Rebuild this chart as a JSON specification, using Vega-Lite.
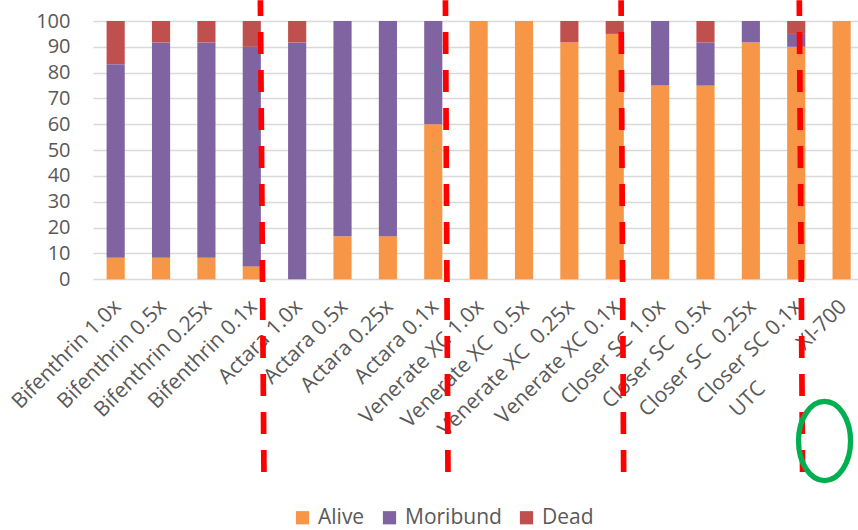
{
  "$schema": "https://vega.github.io/schema/vega-lite/v6.json",
  "autosize": "none",
  "width": 765,
  "height": 258.3,
  "padding": {"left": 93, "top": 21, "right": 0, "bottom": 250.7},
  "config": {
    "view": {"stroke": null},
    "font": "Open Sans",
    "axisY": {
      "tickCount": 10,
      "domain": false,
      "ticks": false,
      "tickSize": 0,
      "grid": true,
      "gridColor": "#D9D9D9",
      "gridWidth": 1.3,
      "labelPadding": 23,
      "labelFont": "Open Sans",
      "labelFontSize": 20,
      "labelColor": "#595959",
      "title": null
    }
  },
  "datasets": {
    "stackOrder": [
      {"status": "Alive", "rank": 1},
      {"status": "Moribund", "rank": 2},
      {"status": "Dead", "rank": 3}
    ],
    "survival": [
      {"treatment": "Bifenthrin 1.0x", "status": "Alive", "pct": 8.3},
      {"treatment": "Bifenthrin 1.0x", "status": "Moribund", "pct": 75},
      {"treatment": "Bifenthrin 1.0x", "status": "Dead", "pct": 16.7},
      {"treatment": "Bifenthrin 0.5x", "status": "Alive", "pct": 8.3},
      {"treatment": "Bifenthrin 0.5x", "status": "Moribund", "pct": 83.4},
      {"treatment": "Bifenthrin 0.5x", "status": "Dead", "pct": 8.3},
      {"treatment": "Bifenthrin 0.25x", "status": "Alive", "pct": 8.3},
      {"treatment": "Bifenthrin 0.25x", "status": "Moribund", "pct": 83.4},
      {"treatment": "Bifenthrin 0.25x", "status": "Dead", "pct": 8.3},
      {"treatment": "Bifenthrin 0.1x", "status": "Alive", "pct": 5},
      {"treatment": "Bifenthrin 0.1x", "status": "Moribund", "pct": 85},
      {"treatment": "Bifenthrin 0.1x", "status": "Dead", "pct": 10},
      {"treatment": "Actara 1.0x", "status": "Alive", "pct": 0},
      {"treatment": "Actara 1.0x", "status": "Moribund", "pct": 91.7},
      {"treatment": "Actara 1.0x", "status": "Dead", "pct": 8.3},
      {"treatment": "Actara 0.5x", "status": "Alive", "pct": 16.7},
      {"treatment": "Actara 0.5x", "status": "Moribund", "pct": 83.3},
      {"treatment": "Actara 0.5x", "status": "Dead", "pct": 0},
      {"treatment": "Actara 0.25x", "status": "Alive", "pct": 16.7},
      {"treatment": "Actara 0.25x", "status": "Moribund", "pct": 83.3},
      {"treatment": "Actara 0.25x", "status": "Dead", "pct": 0},
      {"treatment": "Actara 0.1x", "status": "Alive", "pct": 60},
      {"treatment": "Actara 0.1x", "status": "Moribund", "pct": 40},
      {"treatment": "Actara 0.1x", "status": "Dead", "pct": 0},
      {"treatment": "Venerate XC 1.0x", "status": "Alive", "pct": 100},
      {"treatment": "Venerate XC 1.0x", "status": "Moribund", "pct": 0},
      {"treatment": "Venerate XC 1.0x", "status": "Dead", "pct": 0},
      {"treatment": "Venerate XC\u00a0 0.5x", "status": "Alive", "pct": 100},
      {"treatment": "Venerate XC\u00a0 0.5x", "status": "Moribund", "pct": 0},
      {"treatment": "Venerate XC\u00a0 0.5x", "status": "Dead", "pct": 0},
      {"treatment": "Venerate XC\u00a0 0.25x", "status": "Alive", "pct": 91.7},
      {"treatment": "Venerate XC\u00a0 0.25x", "status": "Moribund", "pct": 0},
      {"treatment": "Venerate XC\u00a0 0.25x", "status": "Dead", "pct": 8.3},
      {"treatment": "Venerate XC 0.1x", "status": "Alive", "pct": 95},
      {"treatment": "Venerate XC 0.1x", "status": "Moribund", "pct": 0},
      {"treatment": "Venerate XC 0.1x", "status": "Dead", "pct": 5},
      {"treatment": "Closer SC 1.0x", "status": "Alive", "pct": 75},
      {"treatment": "Closer SC 1.0x", "status": "Moribund", "pct": 25},
      {"treatment": "Closer SC 1.0x", "status": "Dead", "pct": 0},
      {"treatment": "Closer SC\u00a0 0.5x", "status": "Alive", "pct": 75},
      {"treatment": "Closer SC\u00a0 0.5x", "status": "Moribund", "pct": 16.7},
      {"treatment": "Closer SC\u00a0 0.5x", "status": "Dead", "pct": 8.3},
      {"treatment": "Closer SC\u00a0 0.25x", "status": "Alive", "pct": 91.7},
      {"treatment": "Closer SC\u00a0 0.25x", "status": "Moribund", "pct": 8.3},
      {"treatment": "Closer SC\u00a0 0.25x", "status": "Dead", "pct": 0},
      {"treatment": "Closer SC 0.1x", "status": "Alive", "pct": 90},
      {"treatment": "Closer SC 0.1x", "status": "Moribund", "pct": 5},
      {"treatment": "Closer SC 0.1x", "status": "Dead", "pct": 5},
      {"treatment": "UTC\u00a0\u00a0\u00a0\u00a0\u00a0\u00a0\u00a0\u00a0\u00a0\u00a0XI-700", "status": "Alive", "pct": 100},
      {"treatment": "UTC\u00a0\u00a0\u00a0\u00a0\u00a0\u00a0\u00a0\u00a0\u00a0\u00a0XI-700", "status": "Moribund", "pct": 0},
      {"treatment": "UTC\u00a0\u00a0\u00a0\u00a0\u00a0\u00a0\u00a0\u00a0\u00a0\u00a0XI-700", "status": "Dead", "pct": 0}
    ]
  },
  "encoding": {
    "x": {
      "field": "treatment",
      "type": "nominal",
      "title": null,
      "scale": {
        "domain": [
          "Bifenthrin 1.0x", "Bifenthrin 0.5x", "Bifenthrin 0.25x", "Bifenthrin 0.1x",
          "Actara 1.0x", "Actara 0.5x", "Actara 0.25x", "Actara 0.1x",
          "Venerate XC 1.0x", "Venerate XC\u00a0 0.5x", "Venerate XC\u00a0 0.25x", "Venerate XC 0.1x",
          "Closer SC 1.0x", "Closer SC\u00a0 0.5x", "Closer SC\u00a0 0.25x", "Closer SC 0.1x",
          "UTC\u00a0\u00a0\u00a0\u00a0\u00a0\u00a0\u00a0\u00a0\u00a0\u00a0XI-700"
        ],
        "paddingInner": 0.6,
        "paddingOuter": 0.2305,
        "align": 0.65
      },
      "axis": {
        "domain": false,
        "ticks": false,
        "tickSize": 0,
        "grid": false,
        "labelAngle": -45,
        "labelAlign": "right",
        "labelBaseline": "middle",
        "labelPadding": 24,
        "labelOffset": 2,
        "labelFont": "Open Sans",
        "labelFontSize": 21,
        "labelColor": "#595959",
        "labelLimit": 0,
        "labelOverlap": false,
        "labelBound": false,
        "zindex": 0
      }
    }
  },
  "layer": [
    {
      "data": {"name": "survival"},
      "transform": [
        {"lookup": "status", "from": {"data": {"name": "stackOrder"}, "key": "status", "fields": ["rank"]}}
      ],
      "mark": {"type": "bar"},
      "encoding": {
        "y": {
          "field": "pct",
          "type": "quantitative",
          "stack": "zero",
          "title": null,
          "scale": {"domain": [0, 100], "nice": false}
        },
        "color": {
          "field": "status",
          "type": "nominal",
          "scale": {
            "domain": ["Alive", "Moribund", "Dead"],
            "range": ["#F79646", "#8064A2", "#C0504D"]
          },
          "legend": {
            "title": null,
            "orient": "none",
            "direction": "horizontal",
            "legendX": 199,
            "legendY": 486,
            "padding": 0,
            "symbolType": "square",
            "symbolSize": 175,
            "symbolStrokeWidth": 0,
            "labelFont": "Open Sans",
            "labelFontSize": 21,
            "labelColor": "#595959",
            "labelOffset": 5,
            "columnPadding": 14
          }
        },
        "order": {"field": "rank", "type": "quantitative", "sort": "ascending"}
      }
    },
    {
      "data": {"values": [{"treatment": "Bifenthrin 0.1x", "low": -74.6, "high": 108}]},
      "mark": {"type": "rule", "color": "#FF0000", "strokeWidth": 5.7, "strokeDash": [22, 16], "strokeCap": "butt"},
      "encoding": {
        "x": {"field": "treatment", "type": "nominal", "bandPosition": 1.17},
        "x2": {"field": "treatment", "bandPosition": 0.975},
        "y": {"field": "low", "type": "quantitative", "scale": {"domain": [0, 100], "nice": false}},
        "y2": {"field": "high"}
      }
    },
    {
      "data": {"values": [{"treatment": "Actara 0.1x", "low": -74.6, "high": 108}]},
      "mark": {"type": "rule", "color": "#FF0000", "strokeWidth": 5.7, "strokeDash": [22, 16], "strokeCap": "butt"},
      "encoding": {
        "x": {"field": "treatment", "type": "nominal", "bandPosition": 1.31},
        "x2": {"field": "treatment", "bandPosition": 1.17},
        "y": {"field": "low", "type": "quantitative", "scale": {"domain": [0, 100], "nice": false}},
        "y2": {"field": "high"}
      }
    },
    {
      "data": {"values": [{"treatment": "Venerate XC 0.1x", "low": -74.6, "high": 108}]},
      "mark": {"type": "rule", "color": "#FF0000", "strokeWidth": 5.7, "strokeDash": [22, 16], "strokeCap": "butt"},
      "encoding": {
        "x": {"field": "treatment", "type": "nominal", "bandPosition": 0.99},
        "x2": {"field": "treatment", "bandPosition": 0.85},
        "y": {"field": "low", "type": "quantitative", "scale": {"domain": [0, 100], "nice": false}},
        "y2": {"field": "high"}
      }
    },
    {
      "data": {"values": [{"treatment": "Closer SC 0.1x", "low": -74.6, "high": 108}]},
      "mark": {"type": "rule", "color": "#FF0000", "strokeWidth": 5.7, "strokeDash": [22, 16], "strokeCap": "butt"},
      "encoding": {
        "x": {"field": "treatment", "type": "nominal", "bandPosition": 0.85},
        "x2": {"field": "treatment", "bandPosition": 0.67},
        "y": {"field": "low", "type": "quantitative", "scale": {"domain": [0, 100], "nice": false}},
        "y2": {"field": "high"}
      }
    },
    {
      "data": {"values": [{"treatment": "UTC\u00a0\u00a0\u00a0\u00a0\u00a0\u00a0\u00a0\u00a0\u00a0\u00a0XI-700", "level": -62.6}]},
      "mark": {
        "type": "point",
        "shape": "M0,-1A0.657,1,0,1,1,0,1A0.657,1,0,1,1,0,-1Z",
        "size": 6273,
        "filled": false,
        "stroke": "#00B050",
        "strokeWidth": 5.3,
        "opacity": 1
      },
      "encoding": {
        "x": {"field": "treatment", "type": "nominal", "bandPosition": -0.44},
        "y": {"field": "level", "type": "quantitative", "scale": {"domain": [0, 100], "nice": false}}
      }
    }
  ]
}
